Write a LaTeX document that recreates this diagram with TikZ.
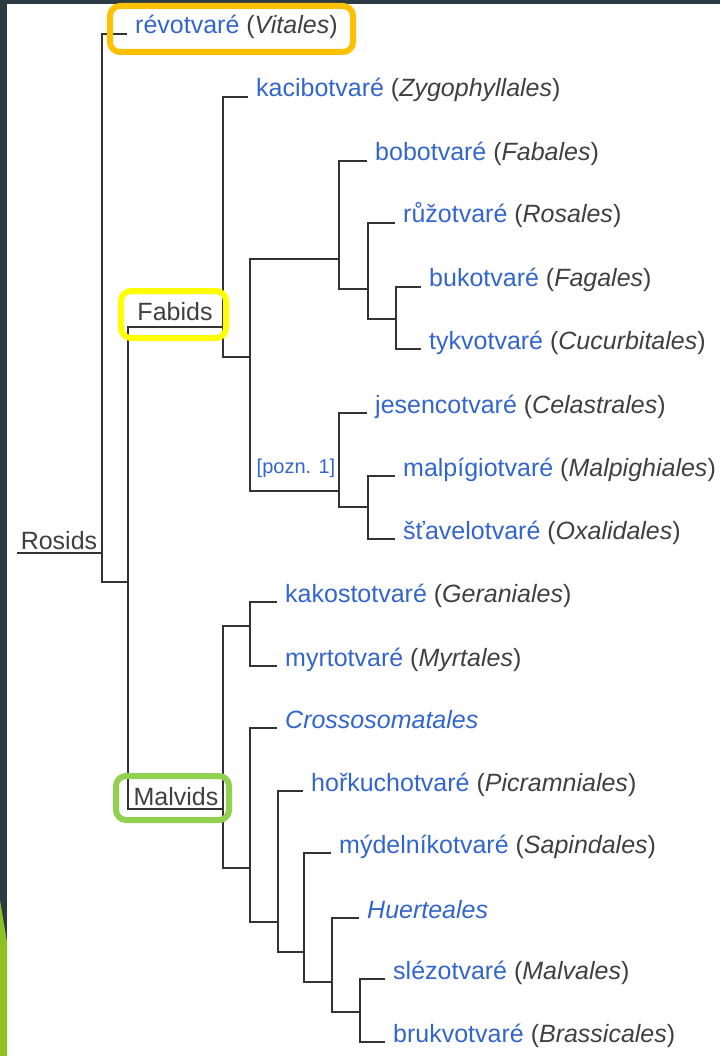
\documentclass[tikz,border=0pt]{standalone}
\usepackage{fontspec}
\setmainfont{Liberation Sans}

\definecolor{slide}{HTML}{2A3B42}
\definecolor{slidegreen}{HTML}{8FC124}
\definecolor{linkblue}{HTML}{3366CC}
\definecolor{latgray}{HTML}{404040}
\definecolor{treegray}{HTML}{333333}
\definecolor{hlorange}{HTML}{FFC000}
\definecolor{hlyellow}{HTML}{FFFF00}
\definecolor{hlgreen}{HTML}{92D050}

\newcommand{\taxon}[2]{\textcolor{linkblue}{#1} \textcolor{latgray}{(\textit{#2})}}

\begin{document}
\begin{tikzpicture}[x=1pt, y=-1pt,
    branch/.style={draw=treegray, line width=2pt},
    leaf/.style={anchor=base west, inner xsep=8pt, inner ysep=0pt,
        font=\fontsize{25}{30}\selectfont},
    cladename/.style={anchor=base, inner sep=0pt, text=latgray,
        font=\fontsize{25}{30}\selectfont},
    hlbox/.style={line width=6pt, rounded corners=10pt}]

    \useasboundingbox (0, 0) rectangle (720, 1056);

    % Slide background
    \fill[slide] (0, 0) rectangle (720, 1056);
    \fill[white] (7, 4) rectangle (720, 1056);
    \fill[slidegreen] (0, 900) -- (7, 942) -- (7, 1056) -- (0, 1056) -- cycle;

    % Make the orders
    \foreach \name/\x/\y/\cz/\lat in {
        vit/127/34/révotvaré/Vitales,
        zyg/248/97/kacibotvaré/Zygophyllales,
        fab/367/161/bobotvaré/Fabales,
        ros/395/223/růžotvaré/Rosales,
        fag/421/287/bukotvaré/Fagales,
        cuc/421/349/tykvotvaré/Cucurbitales,
        cel/367/413/jesencotvaré/Celastrales,
        mal/395/476/malpígiotvaré/Malpighiales,
        oxa/395/539/šťavelotvaré/Oxalidales,
        ger/277/602/kakostotvaré/Geraniales,
        myr/277/666/myrtotvaré/Myrtales,
        pic/303/791/hořkuchotvaré/Picramniales,
        sap/331/853/mýdelníkotvaré/Sapindales,
        mlv/385/979/slézotvaré/Malvales,
        bra/385/1042/brukvotvaré/Brassicales}{
        \node[leaf] (\name) at (\x, \y) {\taxon{\cz}{\lat}};
    }
    \node[leaf, text=linkblue] (cro) at (277, 728) {\textit{Crossosomatales}};
    \node[leaf, text=linkblue] (hue) at (359, 918) {\textit{Huerteales}};

    % Make the clades
    \foreach \name/\x/\y in {
        rosids/102/553, core/128/582,
        fabids/223/327, fabcore/250/357, nfix/339/259, rosfag/368/289,
        fagcuc/396/319, com/339/491, malox/368/507,
        malvids/223/809, germyr/250/626, m1/250/868, m2/278/922,
        m3/304/952, m4/332/982, m5/360/1012}{
        \coordinate (\name) at (\x, \y);
    }
    \coordinate (root) at (17, 553);

    % Join every clade to its two branches
    \foreach \upper/\clade/\lower in {
        vit.base west/rosids/core,
        fabids/core/malvids,
        zyg.base west/fabids/fabcore,
        nfix/fabcore/com,
        fab.base west/nfix/rosfag,
        ros.base west/rosfag/fagcuc,
        fag.base west/fagcuc/cuc.base west,
        cel.base west/com/malox,
        mal.base west/malox/oxa.base west,
        germyr/malvids/m1,
        ger.base west/germyr/myr.base west,
        cro.base west/m1/m2,
        pic.base west/m2/m3,
        sap.base west/m3/m4,
        hue.base west/m4/m5,
        mlv.base west/m5/bra.base west}{
        \draw[branch] (\upper) -| (\clade) |- (\lower);
    }
    \draw[branch] (root) -- (rosids);

    % Clade names
    \node[cladename] (rosidsname) at (59, 549) {Rosids};
    \node[cladename] (fabidsname) at (175, 320) {Fabids};
    \node[cladename] (malvidsname) at (176, 805) {Malvids};
    \node[anchor=base, inner sep=0pt, text=linkblue,
        font=\fontsize{20}{24}\selectfont] (note) at (296, 473) {[pozn. 1]};

    % Highlights
    \draw[hlbox, hlorange] (110, 6) rectangle (353, 52);
    \draw[hlbox, hlyellow] (121, 291) rectangle (226, 338);
    \draw[hlbox, hlgreen] (116, 776) rectangle (229, 820);

\end{tikzpicture}
\end{document}
